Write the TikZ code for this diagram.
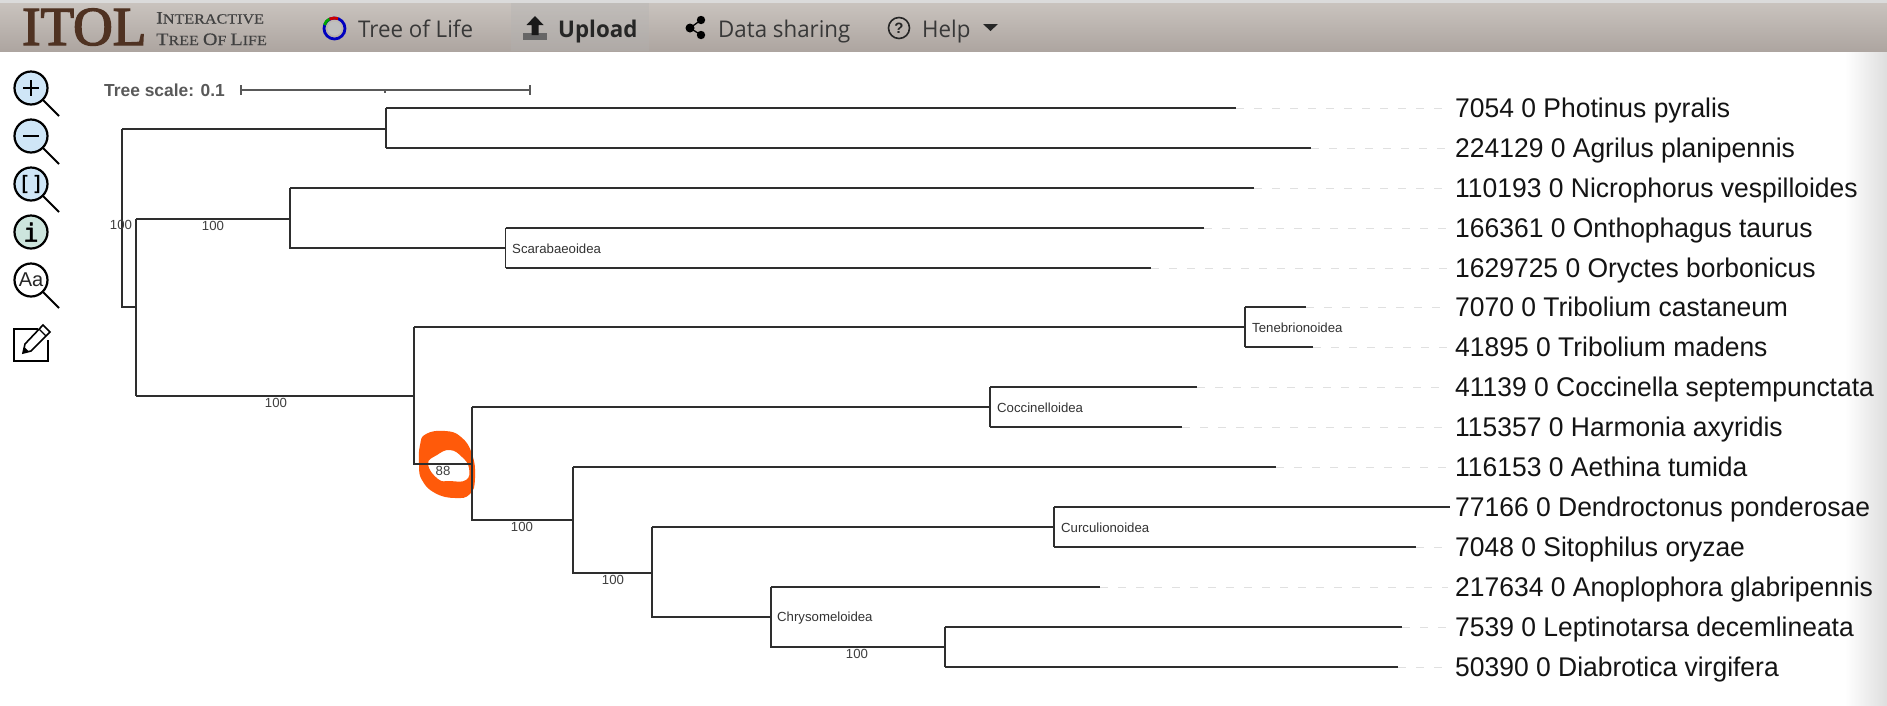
\documentclass[tikz,border=0pt]{standalone}
\usepackage{fontspec}
\setmainfont{Liberation Sans}
\newfontfamily\leaffont[FakeStretch=0.98]{Liberation Sans}
\newfontfamily\navfont[FakeStretch=0.97]{Open Sans}
\newfontfamily\logofont[FakeBold=2.5]{Liberation Serif}
\newfontfamily\serffont[FakeStretch=1.15,FakeBold=0.4]{Liberation Serif}
\newfontfamily\monobold[FakeBold=2]{DejaVu Sans Mono}
\usetikzlibrary{calc}
\definecolor{hdrtop}{HTML}{C9C3BE}
\definecolor{hdrbot}{HTML}{ADA5A0}
\definecolor{lens}{HTML}{CFE6F7}
\definecolor{infoc}{HTML}{CDE5DD}
\definecolor{orangemark}{HTML}{FF5A0A}
\definecolor{logobrown}{HTML}{4F3222}
\tikzset{
  x=1pt,y=-1pt,
  branch/.style={draw=black!82,line width=1.15pt},
  guide/.style={draw=black!12,line width=0.9pt,dash pattern=on 8pt off 10pt},
  leaf/.style={anchor=base west,inner sep=0pt,font=\leaffont\fontsize{27}{28}\selectfont,text=black!92},
  boot/.style={inner sep=0pt,anchor=base,font=\fontsize{13.2}{14}\selectfont,text=black!75},
  clade/.style={anchor=base west,inner sep=0pt,font=\fontsize{13.2}{14}\selectfont,text=black!80},
  navtext/.style={inner sep=0pt,anchor=base west,font=\navfont\fontsize{23}{25}\selectfont,text=black!78},
  ring/.style={draw=black,line width=2.2pt},
}
\begin{document}
\begin{tikzpicture}
\useasboundingbox (0,0) rectangle (1887,705);
\fill[white] (0,0) rectangle (1887,705);
\shade[left color=white,right color=black!13] (1845,51) rectangle (1887,705);
% header
\fill[black!14] (0,0) rectangle (1887,3);
\shade[top color=hdrtop,bottom color=hdrbot] (0,3) rectangle (1887,51);
\fill[black!30,opacity=.35] (511,3) rectangle (649,51);
\node[inner sep=0pt,anchor=base west,text=logobrown,font=\logofont\fontsize{55}{56}\selectfont] (logo) at (22,45) {ITOL};
\node[inner sep=0pt,anchor=base west,text=black!75,font=\serffont\fontsize{17.5}{18}\selectfont] (logoa) at (156,23.5) {I\fontsize{14}{15}\selectfont NTERACTIVE};
\node[inner sep=0pt,anchor=base west,text=black!75,font=\serffont\fontsize{17.5}{18}\selectfont] (logob) at (156,45) {T\fontsize{14}{15}\selectfont REE \fontsize{17.5}{18}\selectfont O\fontsize{14}{15}\selectfont F \fontsize{17.5}{18}\selectfont L\fontsize{14}{15}\selectfont IFE};
% tree-of-life icon
\fill[black!25] (334.5,28.5) circle (7);
\draw[blue!75!black,line width=2.8pt] (334.5,28.5) circle (10.5);
\draw[green!65!black,line width=2.8pt] (324.5,25) .. controls (325.5,22) and (327,20) .. (329.5,19);
\draw[red!80!black,line width=2.8pt] (329.5,19) .. controls (332,18) and (335,17.7) .. (338,18.5);
\node[navtext] (n1) at (358,37) {Tree of Life};
% upload icon
\fill[black!60] (523,33) rectangle (547,40);
\fill[black!90] (535,16) -- (543.5,25) -- (538.5,25) -- (538.5,35) -- (531.5,35) -- (531.5,25) -- (526.5,25) -- cycle;
\node[navtext,text=black!85,font=\navfont\bfseries\fontsize{23}{25}\selectfont] (n2) at (558,37) {Upload};
% sharing icon
\draw[black,line width=1.3pt] (701,20) -- (690,28) -- (701,35);
\fill[black] (690,28) circle (4.5) (701,20) circle (4.2) (701,35) circle (4.2);
\node[navtext] (n3) at (718,37) {Data sharing};
% help icon
\draw[black!85,line width=1.6pt] (899,28) circle (10.5);
\node[inner sep=0pt,font=\bfseries\fontsize{15}{15}\selectfont,text=black!85] (q) at (899,28) {?};
\node[navtext] (n4) at (922,37) {Help};
\fill[black!85] (983,24) -- (998,24) -- (990.5,31) -- cycle;
% tool icons
\foreach \yy/\cc in {88/lens,136/lens,184/lens,280/white}{
  \draw[black,line width=2pt] (31,\yy) ++(12,12) -- ++(16,16);
  \fill[\cc] (31,\yy) circle (16.5);
  \draw[ring] (31,\yy) circle (16.5);
}
\fill[infoc] (31,232) circle (16.5);
\draw[ring] (31,232) circle (16.5);
\draw[black,line width=2.6pt] (23,88) -- (39,88) (31,80) -- (31,96);
\draw[black,line width=2.6pt] (23,136) -- (39,136);
\node[inner sep=0pt,font=\monobold\fontsize{20}{20}\selectfont] (fit) at (31,184) {[\hspace{1pt}]};
\node[inner sep=0pt,font=\monobold\fontsize{25}{25}\selectfont] (info) at (31,232) {i};
\node[inner sep=0pt,font=\fontsize{20}{20}\selectfont,text=black!85] (aa) at (31,280) {Aa};
% edit icon
\draw[black,line width=1.8pt] (38,329) -- (14,329) -- (14,361) -- (48,361) -- (48,340);
\draw[black,line width=1.6pt,fill=white] (43,325) -- (50,332) -- (31,351) -- (23,353) -- (25,344) -- cycle;
\fill[black] (23,353) -- (24.5,347) -- (29,351.5) -- cycle;
\draw[black,line width=1.2pt] (39,329) -- (46,336);
% scale
\node[inner sep=0pt,anchor=west,text=black!65,font=\bfseries\fontsize{17.4}{18}\selectfont] (scale) at (104,90) {Tree scale: 0.1};
\coordinate (sa) at (241,90); \coordinate (sb) at (385,90); \coordinate (sc) at (530,90);
\draw[draw=black!65,line width=1.1pt] (sa) -- (sc);
\draw[draw=black!65,line width=1.1pt] ($(sa)+(0,-5)$) -- ($(sa)+(0,5)$) (sb) -- ($(sb)+(0,3)$) ($(sc)+(0,-5)$) -- ($(sc)+(0,5)$);
% leaf labels
\foreach \id/\yy/\txt in {
 l1/108/7054 0 Photinus pyralis,
 l2/148/224129 0 Agrilus planipennis,
 l3/188/110193 0 Nicrophorus vespilloides,
 l4/228/166361 0 Onthophagus taurus,
 l5/268/1629725 0 Oryctes borbonicus,
 l6/307/7070 0 Tribolium castaneum,
 l7/347/41895 0 Tribolium madens,
 l8/387/41139 0 Coccinella septempunctata,
 l9/427/115357 0 Harmonia axyridis,
 l10/467/116153 0 Aethina tumida,
 l11/507/77166 0 Dendroctonus ponderosae,
 l12/547/7048 0 Sitophilus oryzae,
 l13/587/217634 0 Anoplophora glabripennis,
 l14/627/7539 0 Leptinotarsa decemlineata,
 l15/667/50390 0 Diabrotica virgifera}{
 \coordinate (a\id) at (1448,\yy);
 \node[leaf] (\id) at (1455,\yy+9.5) {\txt};
}
% tips
\foreach \id/\xx/\yy in {1/1236/108,2/1311/148,3/1254/188,4/1204/228,5/1151/268,6/1306/307,7/1313/347,8/1197/387,9/1182/427,10/1276/467,11/1450/507,12/1416/547,13/1100/587,14/1402/627,15/1398/667}{
 \coordinate (t\id) at (\xx,\yy);
 \draw[guide] (t\id) -- (al\id);
}
% internal nodes
\coordinate (root) at (122,228);
\coordinate (na) at (386,129);
\coordinate (nb) at (136,307);
\coordinate (nc) at (290,219);
\coordinate (ns) at (505.5,248);
\coordinate (nd) at (414,396);
\coordinate (nt) at (1245,327);
\coordinate (ne) at (472,464);
\coordinate (nco) at (990,407);
\coordinate (nf) at (573,520);
\coordinate (ng) at (652,573);
\coordinate (ncu) at (1054,527);
\coordinate (nh) at (771,617);
\coordinate (ni) at (945,647);
% orange mark (under branches)
\fill[orangemark,even odd rule] plot[smooth cycle,tension=.8] coordinates {(420,445) (426,434) (445,431) (461,437) (472,454) (475,478) (470,494) (455,498) (435,493) (422,480) (419,465)}
  plot[smooth cycle,tension=.8] coordinates {(428,464) (437,455) (450,450) (462,457) (469,468) (466,480) (450,481) (438,479)};
% branches
\draw[branch] (na |- t1) -- (t1);
\draw[branch] (na |- t2) -- (t2);
\draw[branch] (na |- t1) -- (na |- t2);
\draw[branch] (root |- na) -- (na);
\draw[branch] (root |- na) -- (root |- nb) -- (nb);
\draw[branch] (nb |- nc) -- (nb |- nd);
\draw[branch] (nb |- nc) -- (nc);
\draw[branch] (nb |- nd) -- (nd);
\draw[branch] (nc |- t3) -- (t3);
\draw[branch] (nc |- t3) -- (nc |- ns) -- (ns);
\draw[branch] (ns |- t4) -- (t4);
\draw[branch] (ns |- t5) -- (t5);
\draw[branch] (ns |- t4) -- (ns |- t5);
\draw[branch] (nd |- nt) -- (nd |- ne) -- (ne);
\draw[branch] (nd |- nt) -- (nt);
\draw[branch] (nt |- t6) -- (t6);
\draw[branch] (nt |- t7) -- (t7);
\draw[branch] (nt |- t6) -- (nt |- t7);
\draw[branch] (ne |- nco) -- (ne |- nf) -- (nf);
\draw[branch] (ne |- nco) -- (nco);
\draw[branch] (nco |- t8) -- (t8);
\draw[branch] (nco |- t9) -- (t9);
\draw[branch] (nco |- t8) -- (nco |- t9);
\draw[branch] (nf |- t10) -- (t10);
\draw[branch] (nf |- t10) -- (nf |- ng) -- (ng);
\draw[branch] (ng |- ncu) -- (ng |- nh) -- (nh);
\draw[branch] (ng |- ncu) -- (ncu);
\draw[branch] (ncu |- t11) -- (t11);
\draw[branch] (ncu |- t12) -- (t12);
\draw[branch] (ncu |- t11) -- (ncu |- t12);
\draw[branch] (nh |- t13) -- (t13);
\draw[branch] (nh |- t13) -- (nh |- ni) -- (ni);
\draw[branch] (ni |- t14) -- (t14);
\draw[branch] (ni |- t15) -- (t15);
\draw[branch] (ni |- t14) -- (ni |- t15);
% labels
\node[boot] (b1) at (121,229) {100};
\node[boot] (b2) at (213,230) {100};
\node[boot] (b3) at (276,407) {100};
\node[boot] (b4) at (443,475) {88};
\node[boot] (b5) at (522,531) {100};
\node[boot] (b6) at (613,584) {100};
\node[boot] (b7) at (857,658) {100};
\node[clade] (c1) at (512,253) {Scarabaeoidea};
\node[clade] (c2) at (1252,332) {Tenebrionoidea};
\node[clade] (c3) at (997,412) {Coccinelloidea};
\node[clade] (c4) at (1061,532) {Curculionoidea};
\node[clade] (c5) at (777,621) {Chrysomeloidea};
\end{tikzpicture}
\end{document}
